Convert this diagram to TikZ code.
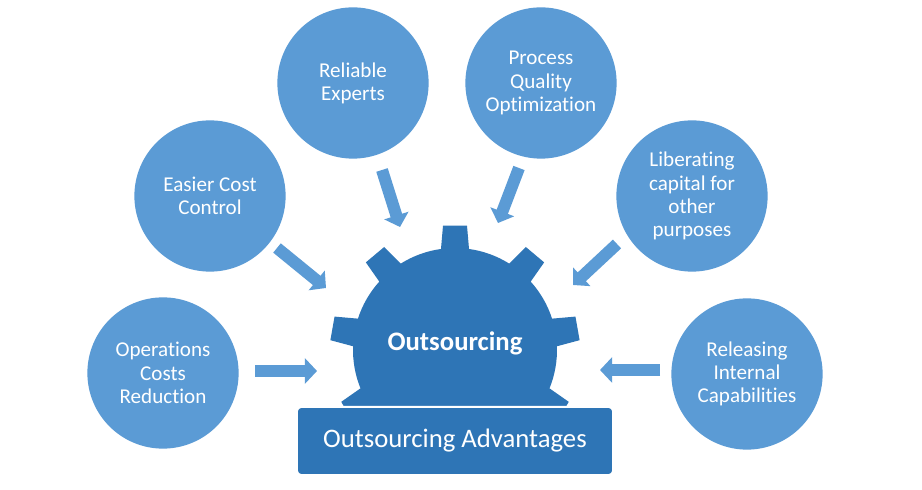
\documentclass[tikz,border=0pt]{standalone}
\usepackage{fontspec}
\setmainfont{Carlito}[Ligatures=NoCommon]
\usepackage{tikz}
\usetikzlibrary{calc,arrows.meta}
\definecolor{azulBox}{RGB}{46,117,182}
\definecolor{celesteBox}{RGB}{91,155,213}

\begin{document}
\begin{tikzpicture}[x=0.025cm, y=-0.025cm,
  benefit/.style={circle, fill=celesteBox, text=white, minimum size=3.78cm,
    inner sep=0pt, align=center, font=\fontsize{15}{16.5}\selectfont},
  flow/.style={celesteBox, line width=0.3cm,
    -{Triangle[width=0.62cm, length=0.3cm]}}]
  \useasboundingbox (0,0) rectangle (922,490);
  \fill[white] (0,0) rectangle (922,490);
  % Benefit circles
  \node[benefit] (ops) at (163,373) {Operations\\Costs\\Reduction};
  \node[benefit] (cost) at (210,196) {Easier Cost\\Control};
  \node[benefit] (expert) at (353,83) {Reliable\\Experts};
  \node[benefit] (quality) at (541,83) {Process\\Quality\\Optimization};
  \node[benefit] (capital) at (692,196) {Liberating\\capital for\\other\\purposes};
  \node[benefit] (release) at (747,374) {Releasing\\Internal\\Capabilities};
  % Gear (nine teeth)
  \coordinate (hub) at (455,350);
  \fill[azulBox, shift={(hub)}] (262.1:102)
    \foreach \a in {270,310,...,590} {
      -- (\a-7.9:102) -- (\a-5.5:125) -- (\a+5.5:125) -- (\a+7.9:102)
      arc[start angle=\a+7.9, end angle=\a+32.1, radius=102]
    } -- cycle;
  \node[text=white, font=\bfseries\fontsize{19}{22}\selectfont] (core)
    at (455,343) {Outsourcing};
  % Base box
  \node[fill=azulBox, draw=white, line width=0.05cm, rounded corners=0.1cm,
    minimum width=7.9cm, minimum height=1.7cm, text=white,
    font=\fontsize{19}{22}\selectfont] (adv) at (455,441)
    {Outsourcing Advantages};
  % Arrows into the gear
  \draw[flow] ($(ops)+(92,-2)$) -- ($(hub)+(-138,21)$);
  \draw[flow] ($(cost)+(67,52)$) -- ($(hub)+(-129,-62)$);
  \draw[flow] ($(expert)+(29,87)$) -- ($(hub)+(-55,-123)$);
  \draw[flow] ($(quality)+(-22,85)$) -- ($(hub)+(43,-127)$);
  \draw[flow] ($(capital)+(-75,48)$) -- ($(hub)+(118,-65)$);
  \draw[flow] ($(release)+(-87,-4)$) -- ($(hub)+(145,20)$);
\end{tikzpicture}
\end{document}
